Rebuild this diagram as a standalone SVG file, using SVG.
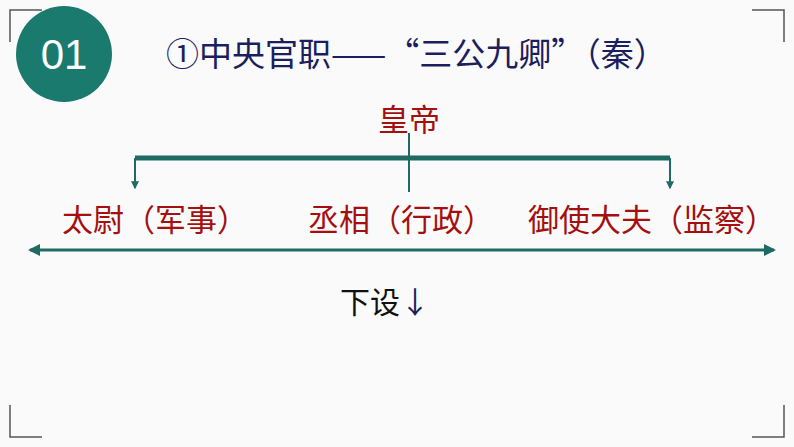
<svg xmlns="http://www.w3.org/2000/svg" width="794" height="447" viewBox="0 0 794 447">
<style>
.red{font-family:"Noto Sans CJK SC",sans-serif;font-size:31px;fill:#A50F0F}
.title{font-family:"Noto Sans CJK SC",sans-serif;font-size:33px;fill:#1B1F5E}
.ln{stroke:#1F6B63;fill:none}
.corner{stroke:#555;stroke-width:1.5;fill:none}
</style>
<defs>
<marker id="ah" viewBox="0 0 6 6" refX="5" refY="3" markerWidth="4" markerHeight="4" orient="auto-start-reverse"><path d="M0,0L6,3L0,6z" fill="#1F6B63"/></marker>
</defs>
<rect width="794" height="447" fill="#FAFAFA"/>
<g id="corners">
<path class="corner" d="M10,42V10H42"/>
<path class="corner" d="M752,10H784V42"/>
<path class="corner" d="M10,405V437H42"/>
<path class="corner" d="M784,405V437H752"/>
</g>
<g id="badge">
<circle cx="64" cy="54" r="48" fill="#1B7A6E"/>
<text x="64" y="69" text-anchor="middle" font-family="Liberation Sans,sans-serif" font-size="42" fill="#fff">01</text>
</g>
<g id="title"><text class="title" x="166" y="66">①中央官职——“三公九卿”（秦）</text></g>
<g id="connectors">
<path class="ln" stroke-width="5" d="M135,158H670"/>
<path class="ln" stroke-width="2" d="M409,133V192"/>
<path class="ln" stroke-width="2" d="M135,158V188" marker-end="url(#ah)"/>
<path class="ln" stroke-width="2" d="M670,158V188" marker-end="url(#ah)"/>
<path class="ln" stroke-width="3" d="M30,250H774" marker-start="url(#ah)" marker-end="url(#ah)"/>
</g>
<g id="emperor"><text class="red" x="409" y="131" text-anchor="middle">皇帝</text></g>
<g id="taiwei"><text class="red" x="62" y="231">太尉（军事）</text></g>
<g id="chengxiang"><text class="red" x="308" y="231">丞相（行政）</text></g>
<g id="yushi"><text class="red" x="528" y="231">御使大夫（监察）</text></g>
<g id="xiashe"><text x="340" y="313" font-family="Noto Sans CJK SC,sans-serif" font-size="30" fill="#111">下设<tspan fill="#1B1F5E">↓</tspan></text></g>
</svg>
